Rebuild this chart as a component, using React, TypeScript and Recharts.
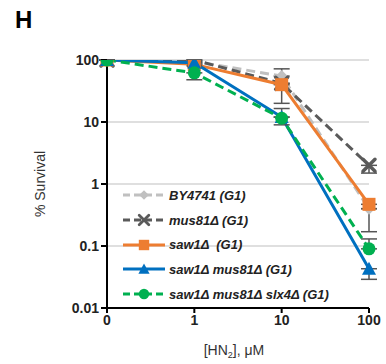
import { LineChart, Line, XAxis, YAxis, CartesianGrid, ErrorBar } from 'recharts';

// doses shown on the x axis, evenly spaced
const doses = ['0', '1', '10', '100'];
const yTicks = [0.01, 0.1, 1, 10, 100];

// % survival per strain
const by4741 = [100, 95, 55, 0.4];
const mus81 = [100, 100, 42, 2];
const saw1 = [100, 85, 40, 0.47];
const saw1mus81 = [100, 90, 12, 0.043];
const slx4 = [100, 62, 11.5, 0.09];

// error bars [minus, plus]
const by4741Err = [[0, 0], [0, 0], [0, 17], [0, 0]];
const mus81Err = [[0, 0], [0, 0], [0, 0], [0.5, 0]];
const saw1Err = [[0, 0], [0, 0], [20, 0], [0.3, 0]];
const saw1mus81Err = [[0, 0], [0, 0], [0, 0], [0.014, 0]];
const slx4Err = [[0, 0], [14, 0], [2.5, 5], [0, 0.04]];

const data = doses.map((d, i) => ({
  x: i,
  by4741: by4741[i],
  mus81: mus81[i],
  saw1: saw1[i],
  saw1mus81: saw1mus81[i],
  slx4: slx4[i],
  by4741Err: by4741Err[i],
  mus81Err: mus81Err[i],
  saw1Err: saw1Err[i],
  saw1mus81Err: saw1mus81Err[i],
  slx4Err: slx4Err[i],
}));

const FONT = '"Liberation Sans", Arial, sans-serif';

type Shape = 'diamond' | 'cross' | 'square' | 'triangle' | 'circle';

const series: { key: string; name: string; color: string; dash?: string; shape: Shape }[] = [
  { key: 'by4741', name: 'BY4741 (G1)', color: '#C0C0C0', dash: '9 5', shape: 'diamond' },
  { key: 'mus81', name: 'mus81Δ (G1)', color: '#5A5A5A', dash: '9 5', shape: 'cross' },
  { key: 'saw1', name: 'saw1Δ  (G1)', color: '#ED7D31', shape: 'square' },
  { key: 'saw1mus81', name: 'saw1Δ mus81Δ (G1)', color: '#0070C0', shape: 'triangle' },
  { key: 'slx4', name: 'saw1Δ mus81Δ slx4Δ (G1)', color: '#00B050', dash: '9 5', shape: 'circle' },
];

function Marker({ cx, cy, shape, color, s = 1 }: { cx: number; cy: number; shape: Shape; color: string; s?: number }) {
  if (cx == null || cy == null) return null;
  switch (shape) {
    case 'diamond':
      return <path d={`M${cx},${cy - 6 * s} L${cx + 6 * s},${cy} L${cx},${cy + 6 * s} L${cx - 6 * s},${cy} Z`} fill={color} />;
    case 'cross':
      return (
        <g stroke={color} strokeWidth={3.5 * s} strokeLinecap="round">
          <line x1={cx - 6 * s} y1={cy - 6 * s} x2={cx + 6 * s} y2={cy + 6 * s} />
          <line x1={cx - 6 * s} y1={cy + 6 * s} x2={cx + 6 * s} y2={cy - 6 * s} />
        </g>
      );
    case 'square':
      return <rect x={cx - 6.5 * s} y={cy - 6.5 * s} width={13 * s} height={13 * s} fill={color} />;
    case 'triangle':
      return <path d={`M${cx},${cy - 7 * s} L${cx + 7 * s},${cy + 6 * s} L${cx - 7 * s},${cy + 6 * s} Z`} fill={color} />;
    default:
      return <circle cx={cx} cy={cy} r={6.5 * s} fill={color} />;
  }
}

function LegendBox() {
  return (
    <div
      style={{
        position: 'absolute',
        left: 122,
        top: 183,
        fontFamily: FONT,
        fontSize: 13,
        fontWeight: 'bold',
        fontStyle: 'italic',
        color: '#222',
      }}
    >
      {series.map((s) => (
        <div key={s.key} style={{ display: 'flex', alignItems: 'center', height: 24.7 }}>
          <svg width={44} height={16} style={{ marginRight: 3 }}>
            <line x1={1} y1={8} x2={43} y2={8} stroke={s.color} strokeWidth={3} strokeDasharray={s.dash ? '7 4' : undefined} />
            <Marker cx={22} cy={8} shape={s.shape} color={s.color} s={0.8} />
          </svg>
          <span style={{ whiteSpace: 'pre' }}>{s.name}</span>
        </div>
      ))}
    </div>
  );
}

function XLabel({ viewBox }: any) {
  const { x, y, width } = viewBox;
  return (
    <text x={x + width / 2 - 4} y={y + 47} textAnchor="middle" fontFamily={FONT} fontSize={14} fill="#333">
      [HN<tspan fontSize={9} dy={3}>2</tspan>
      <tspan dy={-3}>], μM</tspan>
    </text>
  );
}

export default function App() {
  return (
    <div style={{ position: 'absolute', left: 0, top: 0, width: 386, height: 364, background: '#fff' }}>
      <div style={{ position: 'absolute', left: 15, top: 6, fontFamily: FONT, fontWeight: 'bold', fontSize: 24 }}>H</div>
      <LineChart width={386} height={364} data={data} margin={{ top: 60, right: 17, bottom: 0, left: 0 }}>
        <CartesianGrid vertical={false} stroke="#D4D4D4" strokeWidth={1.5} />
        <XAxis
          dataKey="x"
          type="number"
          domain={[0, 3]}
          ticks={[0, 1, 2, 3]}
          tickFormatter={(v) => doses[v]}
          height={56}
          axisLine={{ stroke: '#000', strokeWidth: 2 }}
          tickLine={{ stroke: '#000', strokeWidth: 2 }}
          tickSize={5}
          tick={{ fontFamily: FONT, fontSize: 14, fontWeight: 'bold', fill: '#222' }}
          label={<XLabel />}
        />
        <YAxis
          scale="log"
          domain={[0.01, 100]}
          ticks={yTicks}
          allowDataOverflow
          width={107}
          tickFormatter={(v) => String(v)}
          axisLine={{ stroke: '#000', strokeWidth: 2 }}
          tickLine={{ stroke: '#000', strokeWidth: 2 }}
          tickSize={6}
          tick={{ fontFamily: FONT, fontSize: 14, fontWeight: 'bold', fill: '#222' }}
          label={{
            value: '% Survival',
            angle: -90,
            position: 'insideLeft',
            offset: 40,
            style: { fontFamily: FONT, fontSize: 14, fill: '#333', textAnchor: 'middle' },
          }}
        />
        {series.map((s) => (
          <Line
            key={s.key}
            dataKey={s.key}
            name={s.name}
            stroke={s.color}
            strokeWidth={3}
            strokeDasharray={s.dash}
            isAnimationActive={false}
            dot={(p: any) => <Marker key={`${s.key}-${p.index}`} cx={p.cx} cy={p.cy} shape={s.shape} color={s.color} />}
            activeDot={false}
          >
            <ErrorBar dataKey={`${s.key}Err`} width={8} stroke="#555" strokeWidth={1.5} direction="y" />
          </Line>
        ))}
      </LineChart>
      <LegendBox />
    </div>
  );
}
